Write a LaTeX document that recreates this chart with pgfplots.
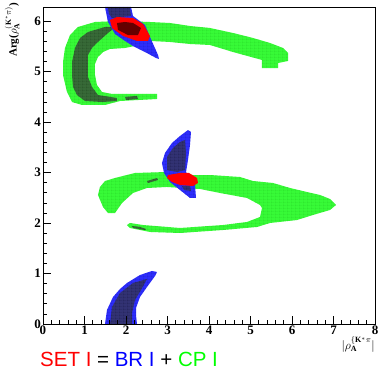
\documentclass[border=0pt]{standalone}
\usepackage{fontspec}
\setmainfont{Liberation Serif}
\newfontfamily\sansf{Liberation Sans}
\usepackage{pgfplots}
\pgfplotsset{compat=1.18}
\usetikzlibrary{patterns.meta}
\pgfdeclarepattern{
  name=rootgrid, type=uncolored,
  bottom left={\pgfpoint{0pt}{0pt}}, top right={\pgfpoint{4.15pt}{3.17pt}},
  tile size={\pgfpoint{4.15pt}{3.17pt}},
  code={\pgfsetlinewidth{0.45pt}
    \pgfpathmoveto{\pgfpoint{0pt}{0pt}}\pgfpathlineto{\pgfpoint{4.15pt}{0pt}}
    \pgfpathmoveto{\pgfpoint{0pt}{0pt}}\pgfpathlineto{\pgfpoint{0pt}{3.17pt}}
    \pgfusepath{stroke}}
}
\definecolor{lg}{RGB}{55,250,55}
\definecolor{lgl}{RGB}{30,190,30}
\definecolor{dg}{RGB}{55,105,55}
\definecolor{dgl}{RGB}{20,50,20}
\definecolor{lb}{RGB}{45,45,250}
\definecolor{lbl}{RGB}{20,20,170}
\definecolor{db}{RGB}{50,50,115}
\definecolor{dbl}{RGB}{15,15,50}
\definecolor{rr}{RGB}{255,0,0}
\definecolor{dr}{RGB}{100,0,0}
\definecolor{tg}{RGB}{0,255,0}
\definecolor{tb}{RGB}{0,0,255}
\pgfplotsset{
  gl/.style={draw=none, fill=lg, postaction={pattern=rootgrid, pattern color=lgl}},
  gd/.style={draw=none, fill=dg, postaction={pattern=rootgrid, pattern color=dgl}},
  bl/.style={draw=none, fill=lb, postaction={pattern=rootgrid, pattern color=lbl}},
  bd/.style={draw=none, fill=db, postaction={pattern=rootgrid, pattern color=dbl}},
}
\begin{document}
\begin{tikzpicture}
\useasboundingbox (0,0) rectangle (379pt,369pt);
\begin{axis}[
  at={(43pt,45pt)}, anchor=south west,
  scale only axis, width=332pt, height=317pt,
  xmin=0, xmax=8, ymin=0, ymax=6.2832,
  xtick={0,...,8}, ytick={0,...,6}, minor tick num=4,
  xticklabels={0,1,2,3,4,5,6,7,8}, yticklabels={0,1,2,3,4,5,6},
  tick align=inside, xtick pos=left, ytick pos=left,
  major tick length=8pt, minor tick length=4pt,
  tick style={black, line width=0.8pt},
  axis line style={line width=0.8pt},
  ticklabel style={font=\fontsize{13}{13}\selectfont\bfseries},
  xticklabel style={inner sep=2pt},
  yticklabel style={inner sep=2pt},
  axis on top,
  xlabel={\fontsize{12}{12}\selectfont $|\rho_{\mathbf{A}}^{\{\mathbf{K}^{*}\pi}|$},
  ylabel={\fontsize{11}{11}\selectfont\bfseries Arg($\rho_{\mathbf{A}}^{(\mathbf{K}^{*}\pi)}$)},
  xlabel style={at={(axis description cs:1.0,-0.04)}, anchor=north east, inner sep=0pt},
  ylabel style={at={(axis description cs:-0.093,1.013)}, anchor=east, inner sep=0pt},
]
% upper green
\addplot[gl] coordinates {
(2.747,4.559) (2.747,4.460) (1.855,4.420) (1.494,4.341) (0.940,4.341) (0.699,4.400)
(0.578,4.599) (0.482,4.936) (0.482,5.193) (0.530,5.471) (0.651,5.728) (0.843,5.887)
(1.253,5.986) (1.855,6.006) (2.578,5.986) (3.060,5.966) (3.542,5.907)
(4.024,5.867) (4.578,5.768) (5.060,5.669) (5.470,5.570) (5.783,5.471) (5.904,5.372)
(5.904,5.213) (5.663,5.173) (5.663,5.074) (5.277,5.074) (5.277,5.233) (4.578,5.391)
(4.024,5.530) (3.542,5.550) (3.060,5.590) (2.578,5.610) (2.217,5.510) (1.976,5.471)
(1.614,5.451) (1.446,5.391) (1.325,5.292) (1.253,5.154) (1.253,4.936) (1.301,4.737)
(1.422,4.599) (1.663,4.559) (1.976,4.559)} -- cycle;
% middle green
\addplot[gl] coordinates {
(1.325,2.557) (1.373,2.716) (1.494,2.834) (1.735,2.894) (2.217,2.993) (2.988,3.013)
(3.614,2.953) (4.024,2.953) (4.747,2.914) (5.060,2.834) (5.542,2.795) (5.952,2.696)
(6.361,2.616) (6.675,2.557) (6.916,2.478) (7.060,2.359) (6.916,2.260) (6.506,2.161)
(6.120,2.061) (5.470,2.002) (5.157,1.923) (4.337,1.863) (3.301,1.804) (2.578,1.824)
(2.096,1.903) (2.024,1.962) (2.096,2.002) (2.410,1.962) (3.301,1.903) (4.337,1.962)
(4.916,2.022) (5.229,2.121) (5.277,2.299) (5.229,2.359) (4.916,2.498) (4.265,2.597)
(3.783,2.676) (3.373,2.696) (2.988,2.716) (2.506,2.696) (2.169,2.597) (1.904,2.398)
(1.735,2.200) (1.566,2.200) (1.446,2.319)} -- cycle;
% dark green
\addplot[gd] coordinates {
(1.687,5.887) (1.494,5.887) (1.084,5.788) (0.892,5.669) (0.771,5.471) (0.699,5.193)
(0.699,4.936) (0.723,4.698) (0.819,4.539) (1.012,4.420) (1.422,4.400) (1.783,4.420)
(1.783,4.480) (1.325,4.539) (1.181,4.698) (1.084,4.896) (1.084,5.134) (1.084,5.332)
(1.181,5.471) (1.325,5.590) (1.566,5.768) (1.687,5.847)} -- cycle;
\addplot[gd] coordinates {(1.976,4.500) (2.265,4.520) (2.289,4.460) (2.000,4.440)} -- cycle;
\addplot[gd] coordinates {(2.506,2.834) (2.747,2.894) (2.771,2.854) (2.530,2.795)} -- cycle;
\addplot[gd] coordinates {(2.145,1.943) (2.337,1.923) (2.482,1.883) (2.458,1.863) (2.169,1.903)} -- cycle;
% blue regions
\addplot[bl] coordinates {
(1.494,6.2832) (2.120,6.2832) (2.169,6.105) (2.458,5.927) (2.578,5.689) (2.771,5.332)
(2.795,5.253) (2.723,5.273) (2.458,5.391) (2.169,5.510) (1.976,5.610) (1.735,5.748)
(1.566,5.986) (1.518,6.184)} -- cycle;
\addplot[bl] coordinates {
(3.494,3.845) (3.566,3.806) (3.542,3.548) (3.494,3.251) (3.446,3.013) (3.663,2.755)
(3.687,2.498) (3.542,2.498) (3.301,2.656) (3.060,2.815) (2.916,2.993) (2.867,3.191)
(2.940,3.390) (3.108,3.588) (3.301,3.726)} -- cycle;
\addplot[bl] coordinates {
(1.494,0) (1.542,0.278) (1.687,0.535) (1.855,0.694) (2.024,0.813) (2.337,0.971)
(2.627,1.051) (2.747,1.031) (2.699,0.951) (2.506,0.733) (2.337,0.535) (2.241,0.317)
(2.241,0.178) (2.265,0)} -- cycle;
% dark blue
\addplot[bd] coordinates {(1.566,6.264) (2.096,6.264) (2.120,6.105) (1.663,6.065) (1.590,6.145)} -- cycle;
\addplot[bd] coordinates {
(3.301,3.608) (3.422,3.647) (3.446,3.390) (3.422,3.052) (3.229,3.013) (2.988,3.052)
(2.988,3.310) (3.133,3.489)} -- cycle;
\addplot[bd] coordinates {(3.349,2.735) (3.542,2.735) (3.566,2.636) (3.398,2.656)} -- cycle;
\addplot[bd] coordinates {
(1.614,0) (1.663,0.337) (1.855,0.614) (2.169,0.813) (2.506,0.892) (2.361,0.674)
(2.217,0.476) (2.145,0.218) (2.145,0)} -- cycle;
% red
\addplot[draw=none, fill=rr] coordinates {
(1.614,6.026) (1.783,6.085) (2.169,6.065) (2.410,5.946) (2.578,5.709) (2.530,5.610)
(2.265,5.610) (1.928,5.709) (1.663,5.867)} -- cycle;
\addplot[draw=none, fill=rr] coordinates {
(3.012,2.953) (3.301,2.993) (3.518,2.993) (3.711,2.894) (3.735,2.795) (3.614,2.735)
(3.301,2.755) (3.108,2.815) (2.988,2.894)} -- cycle;
\addplot[draw=none, fill=dr] coordinates {
(1.783,5.966) (1.976,5.986) (2.169,5.966) (2.361,5.867) (2.289,5.728) (2.048,5.728)
(1.807,5.828)} -- cycle;
\end{axis}
\node[anchor=west, inner sep=0pt, font=\sansf\fontsize{20.5}{20.5}\selectfont] at (40pt,10pt)
  {\textcolor{rr}{SET I} = \textcolor{tb}{BR I} + \textcolor{tg}{CP I}};
\end{tikzpicture}
\end{document}
